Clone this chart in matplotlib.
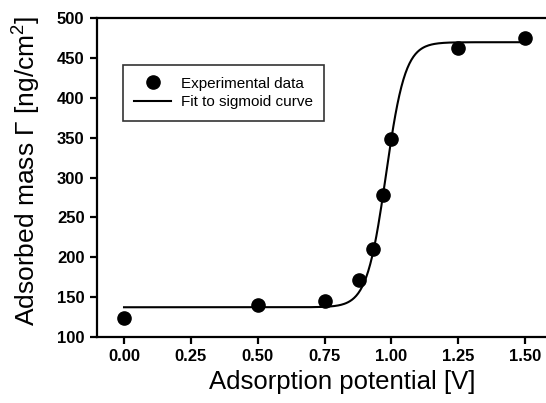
import numpy as np
import matplotlib
matplotlib.use("Agg")
import matplotlib.pyplot as plt

# measured points
potential = [0.0, 0.5, 0.75, 0.88, 0.93, 0.97, 1.0, 1.25, 1.5]
mass = [123, 140, 145, 171, 210, 278, 348, 463, 475]

# sigmoid (Boltzmann) fit parameters
fit_bottom = 137
fit_top = 470
fit_x0 = 0.98
fit_dx = 0.036
fit_range = (0.0, 1.5)

x_ticks = [0.0, 0.25, 0.5, 0.75, 1.0, 1.25, 1.5]
y_ticks = [100, 150, 200, 250, 300, 350, 400, 450, 500]


def boltzmann(x, a1, a2, x0, dx):
	return a2 + (a1 - a2) / (1 + np.exp((x - x0) / dx))


plt.rcParams["font.family"] = ["Liberation Sans", "DejaVu Sans"]
plt.rcParams["mathtext.fontset"] = "custom"
plt.rcParams["mathtext.rm"] = "Liberation Sans"
plt.rcParams["mathtext.default"] = "regular"

fig = plt.figure(figsize=(5.46, 4.03), dpi=100)
ax = fig.add_axes([0.1777, 0.1645, 0.8333, 0.790])

xs = np.linspace(fit_range[0], fit_range[1], 400)
ax.plot(potential, mass, "o", color="black", markersize=9.5, label="Experimental data", zorder=3)
ax.plot(xs, boltzmann(xs, fit_bottom, fit_top, fit_x0, fit_dx), "-", color="black", lw=1.5,
	label="Fit to sigmoid curve")

ax.set_xlim(-0.101, 1.601)
ax.set_ylim(100, 500)
ax.set_xticks(x_ticks)
ax.set_xticklabels([f"{v:.2f}" for v in x_ticks])
ax.set_yticks(y_ticks)

for side in ("left", "bottom", "top", "right"):
	ax.spines[side].set_linewidth(1.6)
ax.tick_params(direction="out", length=5, width=1.6, labelsize=12, pad=4)
for lab in ax.get_xticklabels() + ax.get_yticklabels():
	lab.set_fontweight("bold")

ax.set_xlabel("Adsorption potential [V]", fontsize=18.5)
ax.set_ylabel("Adsorbed mass Γ [ng/cm$^2$]", fontsize=19)
ax.xaxis.set_label_coords(0.54, -0.105)
ax.yaxis.set_label_coords(-0.118, 0.52)

leg = ax.legend(loc="upper left", bbox_to_anchor=(0.0565, 0.853), fontsize=11,
	frameon=True, fancybox=False, edgecolor="black", handlelength=2.4,
	borderpad=0.75, labelspacing=0.3, handletextpad=0.65, borderaxespad=0)
leg.get_frame().set_linewidth(1.2)

fig.savefig("out.png", dpi=100)
